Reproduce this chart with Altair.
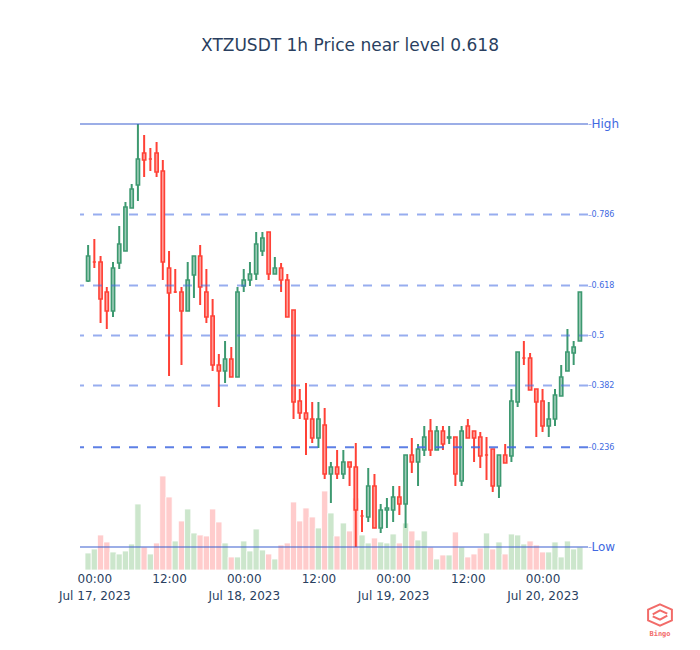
import altair as alt
import pandas as pd

title_text = "XTZUSDT 1h Price near level 0.618"
start_time = "2023-07-16 23:00"

opens = [0.8332, 0.8370, 0.8370, 0.8310, 0.8272, 0.8368, 0.8392, 0.8478, 0.8524, 0.8588,
         0.8576, 0.8588, 0.8552, 0.8358, 0.8310, 0.8310, 0.8272, 0.8344, 0.8382, 0.8310,
         0.8262, 0.8164, 0.8152, 0.8176, 0.8140, 0.8322, 0.8334, 0.8346, 0.8392, 0.8430,
         0.8346, 0.8358, 0.8334, 0.8274, 0.8092, 0.8068, 0.8056, 0.8018, 0.8044, 0.7946,
         0.7960, 0.7946, 0.7970, 0.7960, 0.7862, 0.7860, 0.7922, 0.7838, 0.7874, 0.7874,
         0.7900, 0.7886, 0.7984, 0.7970, 0.7994, 0.8032, 0.7994, 0.8032, 0.8018, 0.8020,
         0.7932, 0.8042, 0.8032, 0.8020, 0.7984, 0.7996, 0.7922, 0.7984, 0.7982, 0.8090,
         0.8178, 0.8178, 0.8116, 0.8092, 0.8042, 0.8056, 0.8102, 0.8152, 0.8188, 0.8212]

highs = [0.8404, 0.8416, 0.8382, 0.8320, 0.8370, 0.8442, 0.8490, 0.8526, 0.8646, 0.8624,
         0.8598, 0.8610, 0.8574, 0.8392, 0.8356, 0.8320, 0.8370, 0.8382, 0.8404, 0.8356,
         0.8296, 0.8186, 0.8212, 0.8200, 0.8320, 0.8356, 0.8370, 0.8430, 0.8430, 0.8430,
         0.8380, 0.8368, 0.8346, 0.8274, 0.8116, 0.8128, 0.8090, 0.8090, 0.8078, 0.7970,
         0.7994, 0.7994, 0.7970, 0.8008, 0.7874, 0.7958, 0.7946, 0.7886, 0.7898, 0.7922,
         0.7922, 0.7984, 0.8018, 0.8006, 0.8042, 0.8056, 0.8042, 0.8042, 0.8042, 0.8020,
         0.8042, 0.8056, 0.8032, 0.8030, 0.8020, 0.7996, 0.7984, 0.8006, 0.8116, 0.8190,
         0.8212, 0.8188, 0.8116, 0.8116, 0.8090, 0.8116, 0.8164, 0.8236, 0.8212, 0.8310]

lows = [0.8330, 0.8358, 0.8248, 0.8236, 0.8260, 0.8356, 0.8392, 0.8478, 0.8492, 0.8540,
        0.8552, 0.8540, 0.8334, 0.8142, 0.8308, 0.8164, 0.8272, 0.8298, 0.8284, 0.8248,
        0.8152, 0.8080, 0.8128, 0.8140, 0.8140, 0.8310, 0.8322, 0.8334, 0.8382, 0.8334,
        0.8346, 0.8310, 0.8260, 0.8056, 0.8056, 0.7984, 0.8008, 0.7998, 0.7936, 0.7888,
        0.7936, 0.7936, 0.7922, 0.7800, 0.7830, 0.7850, 0.7838, 0.7828, 0.7838, 0.7850,
        0.7864, 0.7838, 0.7948, 0.7922, 0.7982, 0.7982, 0.7994, 0.7994, 0.8006, 0.7922,
        0.7922, 0.8018, 0.7970, 0.7958, 0.7934, 0.7910, 0.7898, 0.7968, 0.7970, 0.8080,
        0.8164, 0.8114, 0.8020, 0.8030, 0.8020, 0.8042, 0.8102, 0.8152, 0.8164, 0.8212]

closes = [0.8382, 0.8370, 0.8296, 0.8272, 0.8358, 0.8406, 0.8480, 0.8516, 0.8576, 0.8574,
          0.8576, 0.8550, 0.8370, 0.8308, 0.8310, 0.8272, 0.8334, 0.8382, 0.8320, 0.8260,
          0.8164, 0.8152, 0.8176, 0.8140, 0.8310, 0.8334, 0.8346, 0.8406, 0.8418, 0.8346,
          0.8358, 0.8334, 0.8260, 0.8090, 0.8068, 0.8056, 0.8018, 0.8056, 0.7946, 0.7960,
          0.7946, 0.7970, 0.7960, 0.7874, 0.7862, 0.7922, 0.7838, 0.7874, 0.7878, 0.7900,
          0.7886, 0.7984, 0.7970, 0.7996, 0.8020, 0.7994, 0.8032, 0.8006, 0.8020, 0.7946,
          0.8032, 0.8018, 0.8018, 0.7982, 0.7984, 0.7922, 0.7984, 0.7968, 0.8092, 0.8190,
          0.8178, 0.8114, 0.8090, 0.8042, 0.8056, 0.8104, 0.8140, 0.8190, 0.8200, 0.8310]

volumes_k = [17, 21, 35, 28, 18, 16, 19, 26, 66, 23,
             16, 27, 94, 73, 29, 49, 61, 37, 35, 34,
             61, 48, 27, 13, 13, 29, 19, 41, 20, 16,
             11, 25, 27, 68, 49, 62, 53, 42, 79, 57,
             34, 47, 39, 72, 35, 27, 32, 28, 27, 36,
             27, 47, 39, 30, 39, 23, 11, 15, 15, 38,
             23, 13, 16, 22, 37, 21, 28, 16, 36, 35,
             26, 29, 25, 18, 18, 28, 13, 29, 21, 23]

level_values = [0.0, 0.236, 0.382, 0.5, 0.618, 0.786, 1.0]
level_names = ["Low", "0.236", "0.382", "0.5", "0.618", "0.786", "High"]

tick_times = ["2023-07-17 00:00", "2023-07-17 12:00", "2023-07-18 00:00", "2023-07-18 12:00",
              "2023-07-19 00:00", "2023-07-19 12:00", "2023-07-20 00:00"]

# ---------------------------------------------------------------- styling
GREEN, RED = "#3D9970", "#FF4136"
GREEN_FILL, RED_FILL = "#9eccb8", "#ffa09b"
VOL_GREEN, VOL_RED = "#cce6cc", "#ffcccc"
ROYAL = "#4169E1"
TXT = "#2a3f5f"
FONT = "DejaVu Sans"

times = pd.date_range(start_time, periods=len(opens), freq="h")
fmt = "%Y-%m-%dT%H:%M:%S"
df = pd.DataFrame({
    "t": times.strftime(fmt),
    "t0": (times - pd.Timedelta(minutes=30)).strftime(fmt),
    "t1": (times + pd.Timedelta(minutes=30)).strftime(fmt),
    "open": opens, "high": highs, "low": lows, "close": closes,
    "volume": [v * 1000 for v in volumes_k],
})
up = df["close"] > df["open"]
df["line_col"] = [GREEN if u else RED for u in up]
df["fill_col"] = [GREEN_FILL if u else RED_FILL for u in up]
df["vol_col"] = [VOL_GREEN if c >= o else VOL_RED for o, c in zip(opens, closes)]

lo, hi = min(lows), max(highs)
span = hi - lo
level_prices = [lo + span * v for v in level_values]
levels = pd.DataFrame({"price": level_prices, "name": level_names, "level": level_values})
dashed = levels[(levels["level"] > 0) & (levels["level"] < 1)].copy()
dashed["op"] = [0.85 if v == 0.236 else 0.55 for v in dashed["level"]]
solid = levels[(levels["level"] == 0) | (levels["level"] == 1)]

label_expr = "".join(
    f"abs(datum.value - {p:.7f}) < 0.00001 ? '{n}' : " for p, n in zip(level_prices, level_names)
) + "''"

price_scale = alt.Scale(domain=[lo - span * 0.0544, hi + span * 0.0567], nice=False, zero=False)
price_axis = alt.Axis(
    orient="right", values=level_prices, labelExpr=label_expr, title="",
    domain=False, grid=False, ticks=True, tickSize=3, tickColor=ROYAL, tickOpacity=0.5,
    labelPadding=0, labelColor=ROYAL, labelFont=FONT, labelOverlap=False, labelFlush=False,
    labelFontSize={"condition": {"test": f"datum.value > {hi - 1e-5} || datum.value < {lo + 1e-5}",
                                 "value": 12}, "value": 8},
)


def dt(s):
    ts = pd.Timestamp(s)
    return alt.DateTime(year=ts.year, month=ts.month, date=ts.day, hours=ts.hour, minutes=ts.minute)


x_scale = alt.Scale(domain=[dt(times[0] - pd.Timedelta(minutes=30)),
                            dt(times[-1] + pd.Timedelta(minutes=30))], nice=False)
x_axis = alt.Axis(
    values=[dt(s) for s in tick_times], title="", domain=False, ticks=False, grid=False,
    labelFont=FONT, labelFontSize=12, labelColor=TXT, labelPadding=3, labelLineHeight=17,
    labelOverlap=False, labelFlush=False,
    labelExpr="hours(datum.value) == 0 ? [timeFormat(datum.value, '%H:%M'), "
              "timeFormat(datum.value, '%b %d, %Y')] : timeFormat(datum.value, '%H:%M')",
)


def X(field):
    return alt.X(field, type="temporal", scale=x_scale, axis=x_axis)


def Y(field):
    return alt.Y(field, type="quantitative", scale=price_scale, axis=price_axis)


base = alt.Chart(df)

volume = base.mark_bar(stroke="white", strokeWidth=0.8).encode(
    x=X("t0"), x2="t1",
    y=alt.Y("volume:Q", scale=alt.Scale(domain=[0, 470000], nice=False), axis=None),
    y2=alt.datum(0),
    color=alt.Color("vol_col:N", scale=None),
)

wicks = base.mark_rule(strokeWidth=2).encode(
    x=X("t"), y=Y("low"), y2="high",
    color=alt.Color("line_col:N", scale=None),
)

bodies = base.mark_bar(size=3.2, strokeWidth=1.6).encode(
    x=X("t"), y=Y("open"), y2="close",
    fill=alt.Fill("fill_col:N", scale=None),
    stroke=alt.Stroke("line_col:N", scale=None),
)

dash_rules = alt.Chart(dashed).mark_rule(strokeDash=[9, 9], strokeWidth=2, color=ROYAL).encode(
    y=Y("price"), opacity=alt.Opacity("op:Q", scale=None),
)

solid_rules = alt.Chart(solid).mark_rule(strokeWidth=1.2, color="#3a5fd0").encode(y=Y("price"))

logo_df = pd.DataFrame({"brand": ["Bingo"]})
logo_path = ("M0,-0.8 L0.9,-0.4 L0.9,0.4 L0,0.8 L-0.9,0.4 L-0.9,-0.4 Z "
             "M-0.55,-0.05 L0,-0.35 L0.55,-0.1 M-0.55,0.1 L0,0.35 L0.55,0.05")
logo = alt.Chart(logo_df).mark_point(shape=logo_path, filled=False, stroke="#f0524f",
                                     strokeWidth=2, size=700, opacity=0.85).encode(
    x=alt.value(580), y=alt.value(515),
)
logo_text = alt.Chart(logo_df).mark_text(font="DejaVu Sans Mono", fontSize=7, fontWeight="bold",
                                         color="#f0524f", opacity=0.85).encode(
    x=alt.value(580), y=alt.value(534), text="brand:N",
)

price_layers = alt.layer(wicks, bodies, dash_rules, solid_rules, logo, logo_text)

chart = alt.layer(volume, price_layers).resolve_scale(y="independent").properties(
    width=508, height=470,
    title=alt.TitleParams(text=title_text, anchor="middle", frame="group", dx=16, offset=32,
                          baseline="alphabetic", font=FONT, fontSize=17, fontWeight="normal",
                          color=TXT),
    padding={"left": 72, "top": 92, "right": 100, "bottom": 72},
    autosize=alt.AutoSizeParams(type="none"),
    background="white",
).configure_view(stroke=None)

chart.save("out.html", embed_options={"renderer": "svg", "actions": False})
